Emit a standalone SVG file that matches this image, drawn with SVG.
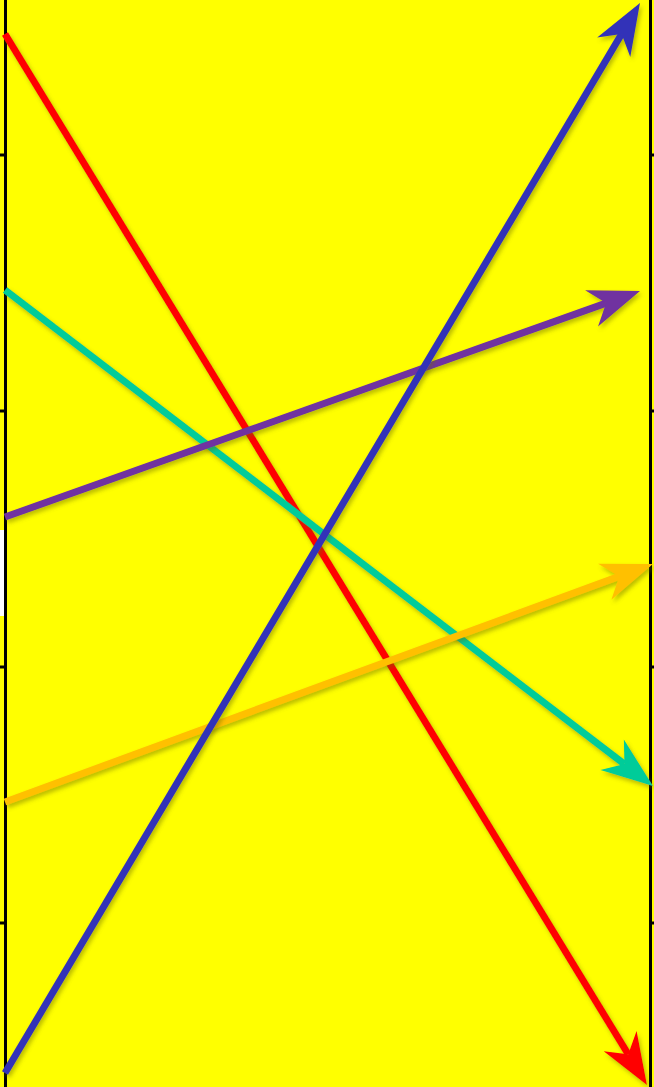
<svg xmlns="http://www.w3.org/2000/svg" width="654" height="1087" viewBox="0 0 654 1087">
  <style>
    .axis { stroke: #000; stroke-width: 3; fill: none; }
    .tick { stroke: #000; stroke-width: 3; }
    .arrow { stroke-width: 7; fill: none; stroke-linecap: butt; filter: url(#shadow); }
  </style>
  <defs>
    <filter id="shadow" x="-10%" y="-10%" width="120%" height="120%">
      <feDropShadow dx="2" dy="3" stdDeviation="2" flood-color="#6b6b00" flood-opacity="0.45"/>
    </filter>
    <marker id="mRed" markerUnits="strokeWidth" markerWidth="10" markerHeight="8" viewBox="-3 -4 10 8" refX="0" refY="0" orient="auto" overflow="visible">
      <path d="M5.14,0 L-2.2,-2.75 L0,0 L-2.2,2.75 Z" fill="#FF0000"/>
    </marker>
    <marker id="mBlue" markerUnits="strokeWidth" markerWidth="10" markerHeight="8" viewBox="-3 -4 10 8" refX="0" refY="0" orient="auto" overflow="visible">
      <path d="M5.14,0 L-2.2,-2.75 L0,0 L-2.2,2.75 Z" fill="#3333B8"/>
    </marker>
    <marker id="mPurple" markerUnits="strokeWidth" markerWidth="10" markerHeight="8" viewBox="-3 -4 10 8" refX="0" refY="0" orient="auto" overflow="visible">
      <path d="M5.14,0 L-2.2,-2.75 L0,0 L-2.2,2.75 Z" fill="#7030A0"/>
    </marker>
    <marker id="mOrange" markerUnits="strokeWidth" markerWidth="10" markerHeight="8" viewBox="-3 -4 10 8" refX="0" refY="0" orient="auto" overflow="visible">
      <path d="M5.14,0 L-2.2,-2.75 L0,0 L-2.2,2.75 Z" fill="#FFC000"/>
    </marker>
    <marker id="mTeal" markerUnits="strokeWidth" markerWidth="10" markerHeight="8" viewBox="-3 -4 10 8" refX="0" refY="0" orient="auto" overflow="visible">
      <path d="M5.14,0 L-2.2,-2.75 L0,0 L-2.2,2.75 Z" fill="#00CC99"/>
    </marker>
  </defs>

  <g id="background">
    <rect x="0" y="0" width="654" height="1087" fill="#FFFF00"/>
    <rect x="0" y="530" width="4" height="86" fill="#FFFFFF"/>
  </g>

  <g id="frame">
    <line class="axis" x1="5.5" y1="0" x2="5.5" y2="1087"/>
    <line class="axis" x1="650.5" y1="0" x2="650.5" y2="1087"/>
    <line class="tick" x1="0" y1="155" x2="5" y2="155"/>
    <line class="tick" x1="0" y1="411" x2="5" y2="411"/>
    <line class="tick" x1="0" y1="667" x2="5" y2="667"/>
    <line class="tick" x1="0" y1="923" x2="5" y2="923"/>
    <line class="tick" x1="651" y1="155" x2="654" y2="155"/>
    <line class="tick" x1="651" y1="411" x2="654" y2="411"/>
    <line class="tick" x1="651" y1="667" x2="654" y2="667"/>
    <line class="tick" x1="651" y1="923" x2="654" y2="923"/>
  </g>

  <g id="connectors">
    <line id="red-arrow" class="arrow" stroke="#FF0000" x1="5" y1="34" x2="628.2" y2="1054.3" marker-end="url(#mRed)"/>
    <line id="teal-arrow" class="arrow" stroke="#00CC99" x1="5" y1="290" x2="624.4" y2="764.1" marker-end="url(#mTeal)"/>
    <line id="purple-arrow" class="arrow" stroke="#7030A0" x1="5" y1="517" x2="606.1" y2="303.1" marker-end="url(#mPurple)"/>
    <line id="orange-arrow" class="arrow" stroke="#FFC000" x1="5" y1="802" x2="619.2" y2="576.4" marker-end="url(#mOrange)"/>
    <line id="blue-arrow" class="arrow" stroke="#3333B8" x1="5" y1="1073" x2="621.6" y2="34" marker-end="url(#mBlue)"/>
  </g>
</svg>
